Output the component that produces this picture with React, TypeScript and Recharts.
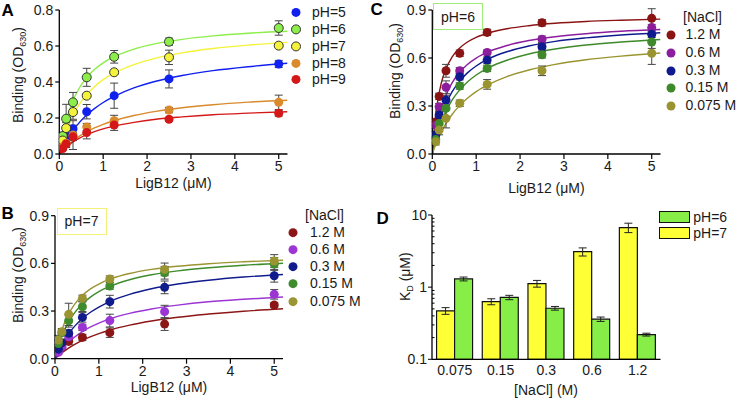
import {
  ComposedChart,
  BarChart,
  Bar,
  Line,
  Scatter,
  XAxis,
  YAxis,
  ErrorBar,
  Legend,
} from 'recharts';

const FONT = '"Liberation Sans", Arial, Helvetica, sans-serif';
const INK = '#1a1a1a';

// LigB12 concentrations (uM) of the measured points
const conc = [0.078, 0.156, 0.3125, 0.625, 1.25, 2.5, 5];
const fitX = [0, 0.05, 0.1, 0.2, 0.3, 0.45, 0.6, 0.8, 1, 1.3, 1.7, 2.2, 2.8, 3.5, 4.3, 5.2];
const xTicks = [0, 1, 2, 3, 4, 5];

// panel A - pH series
const aNames = ['pH=5', 'pH=6', 'pH=7', 'pH=8', 'pH=9'];
const aColors = ['#1020ee', '#8cee4a', '#f4f23a', '#d88a2c', '#d41818'];
const aOutlined = [false, true, true, false, false];
const aMeans = [
  [0.06, 0.1, 0.14, 0.235, 0.324, 0.417, 0.5],
  [0.1, 0.196, 0.287, 0.426, 0.54, 0.624, 0.7],
  [0.075, 0.144, 0.233, 0.324, 0.454, 0.537, 0.602],
  [0.04, 0.06, 0.105, 0.15, 0.185, 0.244, 0.287],
  [0.03, 0.056, 0.096, 0.119, 0.161, 0.193, 0.226],
];
const aErrs = [
  [0.01, 0.02, 0.02, 0.04, 0.07, 0.05, 0.02],
  [0.02, 0.08, 0.055, 0.05, 0.035, 0.02, 0.04],
  [0.01, 0.03, 0.04, 0.01, 0.01, 0.04, 0.01],
  [0.01, 0.02, 0.08, 0.02, 0.03, 0.015, 0.04],
  [0.01, 0.02, 0.02, 0.035, 0.03, 0.01, 0.015],
];
const aFits = [
  [0, 0.026, 0.049, 0.091, 0.127, 0.173, 0.211, 0.252, 0.286, 0.326, 0.367, 0.404, 0.436, 0.463, 0.485, 0.504],
  [0, 0.072, 0.131, 0.222, 0.29, 0.364, 0.417, 0.469, 0.506, 0.546, 0.583, 0.613, 0.637, 0.656, 0.671, 0.682],
  [0, 0.047, 0.087, 0.155, 0.21, 0.274, 0.323, 0.374, 0.413, 0.456, 0.497, 0.533, 0.562, 0.586, 0.605, 0.62],
  [0, 0.014, 0.027, 0.051, 0.072, 0.098, 0.12, 0.145, 0.165, 0.189, 0.214, 0.237, 0.257, 0.274, 0.288, 0.299],
  [0, 0.013, 0.026, 0.047, 0.065, 0.087, 0.105, 0.124, 0.14, 0.158, 0.176, 0.193, 0.206, 0.218, 0.227, 0.235],
];

// panels B and C - NaCl series
const saltNames = ['1.2 M', '0.6 M', '0.3 M', '0.15 M', '0.075 M'];

const bColors = ['#8c1616', '#9b35d4', '#101c8c', '#3f8c2c', '#9a9432'];
const bMeans = [
  [0.05, 0.07, 0.109, 0.134, 0.164, 0.218, 0.338],
  [0.04, 0.075, 0.138, 0.197, 0.24, 0.296, 0.405],
  [0.06, 0.1, 0.16, 0.26, 0.359, 0.449, 0.522],
  [0.096, 0.164, 0.239, 0.327, 0.457, 0.541, 0.596],
  [0.117, 0.17, 0.279, 0.38, 0.501, 0.562, 0.615],
];
const bErrs = [
  [0.01, 0.01, 0.02, 0.02, 0.03, 0.04, 0.015],
  [0.01, 0.01, 0.02, 0.02, 0.04, 0.04, 0.03],
  [0.01, 0.02, 0.02, 0.03, 0.04, 0.04, 0.04],
  [0.02, 0.02, 0.04, 0.03, 0.02, 0.04, 0.04],
  [0.03, 0.02, 0.07, 0.02, 0.02, 0.04, 0.04],
];
const bFits = [
  [0, 0.012, 0.024, 0.046, 0.065, 0.09, 0.112, 0.137, 0.158, 0.184, 0.211, 0.237, 0.261, 0.281, 0.299, 0.314],
  [0, 0.02, 0.039, 0.072, 0.101, 0.137, 0.166, 0.198, 0.224, 0.255, 0.285, 0.313, 0.337, 0.358, 0.374, 0.388],
  [0, 0.032, 0.061, 0.112, 0.154, 0.205, 0.247, 0.291, 0.325, 0.366, 0.405, 0.44, 0.47, 0.494, 0.514, 0.53],
  [0, 0.053, 0.098, 0.17, 0.226, 0.29, 0.338, 0.386, 0.422, 0.461, 0.497, 0.528, 0.553, 0.572, 0.588, 0.601],
  [0, 0.07, 0.127, 0.214, 0.277, 0.344, 0.392, 0.438, 0.47, 0.505, 0.536, 0.562, 0.582, 0.598, 0.61, 0.62],
];

const cColors = ['#8a1414', '#8c1e9e', '#0f1a8e', '#3e8a2a', '#9a9430'];
const cMeans = [
  [0.2, 0.36, 0.52, 0.63, 0.76, 0.82, 0.848],
  [0.18, 0.296, 0.417, 0.52, 0.635, 0.717, 0.79],
  [0.12, 0.244, 0.337, 0.483, 0.587, 0.67, 0.748],
  [0.09, 0.19, 0.285, 0.425, 0.535, 0.62, 0.7],
  [0.077, 0.15, 0.223, 0.317, 0.435, 0.52, 0.63],
];
const cErrs = [
  [0.02, 0.02, 0.04, 0.02, 0.02, 0.02, 0.06],
  [0.02, 0.02, 0.04, 0.02, 0.015, 0.02, 0.02],
  [0.02, 0.02, 0.03, 0.02, 0.02, 0.02, 0.02],
  [0.02, 0.03, 0.05, 0.02, 0.02, 0.02, 0.04],
  [0.02, 0.03, 0.06, 0.02, 0.03, 0.03, 0.07],
];
const cFits = [
  [0, 0.175, 0.292, 0.438, 0.525, 0.606, 0.656, 0.7, 0.729, 0.758, 0.783, 0.802, 0.817, 0.828, 0.836, 0.843],
  [0, 0.093, 0.168, 0.279, 0.359, 0.444, 0.503, 0.559, 0.599, 0.641, 0.678, 0.709, 0.733, 0.752, 0.767, 0.778],
  [0, 0.074, 0.135, 0.233, 0.307, 0.388, 0.448, 0.507, 0.55, 0.597, 0.639, 0.675, 0.704, 0.726, 0.744, 0.758],
  [0, 0.059, 0.111, 0.194, 0.26, 0.336, 0.393, 0.45, 0.494, 0.542, 0.586, 0.625, 0.656, 0.681, 0.7, 0.716],
  [0, 0.039, 0.074, 0.135, 0.185, 0.247, 0.296, 0.348, 0.39, 0.437, 0.484, 0.525, 0.56, 0.589, 0.612, 0.631],
];

// panel D - KD bars
const dSalt = ['0.075', '0.15', '0.3', '0.6', '1.2'];
const dKd7 = [0.47, 0.63, 1.12, 3.1, 6.7];
const dKd7Err = [0.05, 0.06, 0.12, 0.4, 1.0];
const dKd6 = [1.3, 0.72, 0.51, 0.36, 0.22];
const dKd6Err = [0.08, 0.05, 0.03, 0.025, 0.01];
const dTicks = [0.1, 0.2, 0.3, 0.4, 0.5, 0.6, 0.7, 0.8, 0.9, 1, 2, 3, 4, 5, 6, 7, 8, 9, 10];
const GREEN = '#86ee46';
const YELLOW = '#ffff36';

const pts = (ys: number[], es: number[]) => conc.map((x, i) => ({ x, y: ys[i], e: es[i] }));
const curve = (ys: number[]) => fitX.map((x, i) => ({ x, y: ys[i] }));

const tickStyle = { fontSize: 14, fill: INK };

function YTitle({ px, py, main, sub, tail }: any) {
  return (
    <text
      x={px}
      y={py}
      transform={`rotate(-90, ${px}, ${py})`}
      textAnchor="middle"
      fontSize={14}
      fill={INK}
    >
      {main}
      <tspan fontSize={9} dy={3}>{sub}</tspan>
      <tspan dy={-3}>{tail}</tspan>
    </text>
  );
}

function DotLegend({ names, colors, outlined, header, headerH, rowH, svgW }: any) {
  return (
    <div style={{ fontSize: 14, color: INK, fontFamily: FONT }}>
      {header && (
        <div style={{ height: headerH, lineHeight: headerH + 'px', paddingLeft: 18, whiteSpace: 'nowrap' }}>
          {header}
        </div>
      )}
      {names.map((n: string, i: number) => (
        <div key={n} style={{ display: 'flex', alignItems: 'center', height: rowH }}>
          <svg width={svgW} height={rowH} style={{ display: 'block', flex: 'none' }}>
            <circle
              cx={6}
              cy={rowH / 2}
              r={4.5}
              fill={colors[i]}
              stroke={outlined && outlined[i] ? '#333' : 'none'}
              strokeWidth={1}
            />
          </svg>
          <span style={{ lineHeight: rowH + 'px', whiteSpace: 'nowrap' }}>{n}</span>
        </div>
      ))}
    </div>
  );
}

function BindingPanel(p: any) {
  return (
    <div style={{ position: 'absolute', left: p.left, top: p.top }}>
      <ComposedChart width={p.width} height={200} margin={p.margin}>
        <XAxis
          type="number"
          dataKey="x"
          domain={[0, 5.2]}
          ticks={xTicks}
          interval={0}
          height={p.xh}
          tickSize={5}
          stroke={INK}
          axisLine={{ stroke: '#000', strokeWidth: 1.3 }}
          tickLine={{ stroke: '#000', strokeWidth: 1.2 }}
          tick={tickStyle}
          allowDataOverflow
          label={{
            content: () => (
              <text x={p.xTitle[0]} y={p.xTitle[1]} textAnchor="middle" fontSize={14} fill={INK}>
                LigB12 (μM)
              </text>
            ),
          }}
        />
        <YAxis
          type="number"
          dataKey="y"
          domain={[0, p.yMax]}
          ticks={p.yTicks}
          interval={0}
          width={p.yw}
          tickSize={4}
          stroke={INK}
          axisLine={{ stroke: '#000', strokeWidth: 1.3 }}
          tickLine={{ stroke: '#000', strokeWidth: 1.2 }}
          tick={tickStyle}
          tickFormatter={(v: number) => v.toFixed(1)}
          allowDataOverflow
          label={{
            content: () => (
              <YTitle px={p.yTitle[0]} py={p.yTitle[1]} main="Binding (OD" sub="630" tail=")" />
            ),
          }}
        />
        {p.fits.map((f: number[], i: number) => (
          <Line
            key={'fit' + i}
            data={curve(f)}
            dataKey="y"
            type="monotone"
            stroke={p.colors[i]}
            strokeWidth={1.4}
            dot={false}
            legendType="none"
            isAnimationActive={false}
          />
        ))}
        {p.means.map((m: number[], i: number) => (
          <Scatter
            key={'pts' + i}
            name={p.names[i]}
            data={pts(m, p.errs[i])}
            dataKey="y"
            fill={p.colors[i]}
            isAnimationActive={false}
            shape={(s: any) => (
              <circle
                cx={s.cx}
                cy={s.cy}
                r={4.5}
                fill={p.colors[i]}
                stroke={p.outlined && p.outlined[i] ? '#333' : 'none'}
                strokeWidth={1}
              />
            )}
          >
            <ErrorBar dataKey="e" direction="y" width={4} stroke="#444" strokeWidth={1} />
          </Scatter>
        ))}
        <Legend
          layout="vertical"
          align="center"
          verticalAlign="middle"
          wrapperStyle={{ left: p.legend.left, top: p.legend.top }}
          content={() => (
            <DotLegend
              names={p.names}
              colors={p.colors}
              outlined={p.outlined}
              header={p.legend.header}
              headerH={p.legend.headerH}
              rowH={p.legend.rowH}
              svgW={p.legend.svgW}
            />
          )}
        />
      </ComposedChart>
    </div>
  );
}

function LogTick(props: any) {
  const { x, y, payload } = props;
  const v = payload.value;
  const major = v === 0.1 || v === 1 || v === 10;
  return (
    <g>
      <line
        x1={major ? x + 1 : x + 5}
        x2={major ? x + 5 : x + 7.5}
        y1={y}
        y2={y}
        stroke="#000"
        strokeWidth={1}
      />
      {major && (
        <text x={x} y={y} dy="0.355em" textAnchor="end" fontSize={14} fill={INK}>
          {v}
        </text>
      )}
    </g>
  );
}

function KdPanel() {
  const rows = dSalt.map((c, i) => ({
    c,
    p7: dKd7[i],
    p7e: dKd7Err[i],
    p6: dKd6[i],
    p6e: dKd6Err[i],
  }));
  return (
    <div style={{ position: 'absolute', left: 370, top: 200 }}>
      <BarChart
        width={367}
        height={200}
        data={rows}
        margin={{ top: 15, right: 76.5, bottom: 0, left: 0 }}
        barCategoryGap="10%"
        barGap={0}
      >
        <XAxis
          dataKey="c"
          interval={0}
          height={40.7}
          tickSize={4}
          tickLine={false}
          stroke={INK}
          axisLine={{ stroke: '#000', strokeWidth: 1.3 }}
          tick={tickStyle}
          label={{
            content: () => (
              <text x={176} y={194.5} textAnchor="middle" fontSize={14} fill={INK}>
                [NaCl] (M)
              </text>
            ),
          }}
        />
        <YAxis
          scale="log"
          domain={[0.1, 10]}
          ticks={dTicks}
          interval={0}
          width={62}
          tickSize={4}
          tickMargin={1}
          tickLine={false}
          axisLine={{ stroke: '#000', strokeWidth: 1.3 }}
          tick={<LogTick />}
          allowDataOverflow
          label={{
            content: () => <YTitle px={40} py={76.7} main="K" sub="D" tail=" (μM)" />,
          }}
        />
        <Bar dataKey="p7" name="pH=7" fill={YELLOW} stroke="#111" strokeWidth={1.2} isAnimationActive={false}>
          <ErrorBar dataKey="p7e" width={4} stroke="#222" strokeWidth={1} />
        </Bar>
        <Bar dataKey="p6" name="pH=6" fill={GREEN} stroke="#111" strokeWidth={1.2} isAnimationActive={false}>
          <ErrorBar dataKey="p6e" width={4} stroke="#222" strokeWidth={1} />
        </Bar>
        <Legend
          layout="vertical"
          align="center"
          verticalAlign="middle"
          wrapperStyle={{ left: 289.3, top: 9 }}
          content={() => (
            <div style={{ fontSize: 14, color: INK, fontFamily: FONT }}>
              {[
                { n: 'pH=6', c: GREEN },
                { n: 'pH=7', c: YELLOW },
              ].map((it) => (
                <div key={it.n} style={{ display: 'flex', alignItems: 'center', height: 16.2 }}>
                  <div
                    style={{
                      width: 31,
                      height: 12.4,
                      boxSizing: 'border-box',
                      border: '1.2px solid #111',
                      background: it.c,
                      marginRight: 3,
                    }}
                  />
                  <span style={{ lineHeight: '16.2px', whiteSpace: 'nowrap' }}>{it.n}</span>
                </div>
              ))}
            </div>
          )}
        />
      </BarChart>
    </div>
  );
}

const letterStyle = {
  position: 'absolute' as const,
  fontSize: 17,
  lineHeight: '17px',
  fontWeight: 700,
  color: '#000',
};

const boxStyle = {
  position: 'absolute' as const,
  width: 50,
  height: 27,
  boxSizing: 'border-box' as const,
  display: 'flex',
  alignItems: 'center',
  justifyContent: 'center',
  fontSize: 14,
  color: INK,
  background: '#fff',
};

export default function App() {
  return (
    <div
      style={{
        position: 'absolute',
        left: 0,
        top: 0,
        width: 737,
        height: 400,
        background: '#fff',
        fontFamily: FONT,
        overflow: 'hidden',
      }}
    >
      <BindingPanel
        left={0}
        top={0}
        width={370}
        margin={{ top: 10, right: 82.5, bottom: 0, left: 0 }}
        yw={59.3}
        xh={46}
        yMax={0.8}
        yTicks={[0, 0.2, 0.4, 0.6, 0.8]}
        names={aNames}
        colors={aColors}
        outlined={aOutlined}
        means={aMeans}
        errs={aErrs}
        fits={aFits}
        legend={{ left: 290, top: 4.3, rowH: 16.8, svgW: 22 }}
        yTitle={[23, 75]}
        xTitle={[173.4, 188]}
      />
      <BindingPanel
        left={370}
        top={0}
        width={367}
        margin={{ top: 10, right: 76.5, bottom: 0, left: 0 }}
        yw={62.3}
        xh={46}
        yMax={0.9}
        yTicks={[0, 0.3, 0.6, 0.9]}
        names={saltNames}
        colors={cColors}
        means={cMeans}
        errs={cErrs}
        fits={cFits}
        legend={{ left: 295, top: 9.25, header: '[NaCl]', headerH: 16.5, rowH: 17.9, svgW: 20.5 }}
        yTitle={[30, 71]}
        xTitle={[176.4, 193]}
      />
      <BindingPanel
        left={0}
        top={200}
        width={370}
        margin={{ top: 15.7, right: 87, bottom: 0, left: 0 }}
        yw={55}
        xh={41.3}
        yMax={0.9}
        yTicks={[0, 0.3, 0.6, 0.9]}
        names={saltNames}
        colors={bColors}
        means={bMeans}
        errs={bErrs}
        fits={bFits}
        legend={{ left: 287, top: 6.5, header: '[NaCl]', headerH: 17, rowH: 17.3, svgW: 23 }}
        yTitle={[23, 75]}
        xTitle={[169, 192.3]}
      />
      <KdPanel />

      <div style={{ ...boxStyle, left: 433, top: 3, border: '1.5px solid #9fec78' }}>pH=6</div>
      <div style={{ ...boxStyle, left: 56.5, top: 207.5, border: '1.5px solid #f4f07a' }}>pH=7</div>

      <div style={{ ...letterStyle, left: 1.5, top: 1.8 }}>A</div>
      <div style={{ ...letterStyle, left: 370.5, top: 1.1 }}>C</div>
      <div style={{ ...letterStyle, left: 1.5, top: 204.5 }}>B</div>
      <div style={{ ...letterStyle, left: 376.5, top: 209.5 }}>D</div>
    </div>
  );
}
